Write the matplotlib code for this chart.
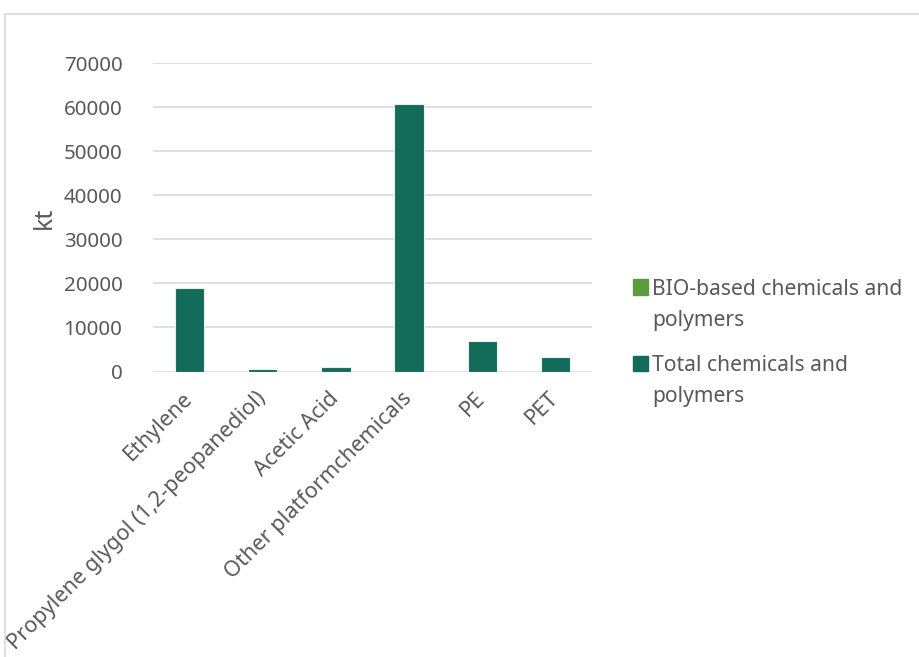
import matplotlib
matplotlib.use("Agg")
import matplotlib.pyplot as plt
from matplotlib.patches import Rectangle
from matplotlib.lines import Line2D
import numpy as np

categories = ["Ethylene", "Propylene glygol (1,2-peopanediol)", "Acetic Acid",
              "Other platformchemicals", "PE", "PET"]
bio_based = [0, 0, 0, 0, 0, 0]
total = [19000, 600, 1000, 60800, 7000, 3200]
y_ticks = [0, 10000, 20000, 30000, 40000, 50000, 60000, 70000]
series_names = ["BIO-based chemicals and\npolymers", "Total chemicals and\npolymers"]

TEXT = "#595959"
GRID = "#d9d9d9"
BIO_COLOR = "#5e9a3e"
TOTAL_COLOR = "#136b5a"
FONT = ["Noto Sans", "DejaVu Sans"]

plt.rcParams["font.family"] = FONT

W, H = 920, 657
fig = plt.figure(figsize=(W / 100, H / 100), dpi=100)

# chart area border (top and left edges visible)
fig.add_artist(Line2D([5 / W, 5 / W], [0, 1 - 14 / H], color=GRID, lw=1.2,
                      transform=fig.transFigure))
fig.add_artist(Line2D([5 / W, 1], [1 - 14 / H, 1 - 14 / H], color=GRID, lw=1.2,
                      transform=fig.transFigure))

left, right = 153 / W, 592 / W
bottom, top = 1 - 371.5 / H, 1 - 63.3 / H
ax = fig.add_axes([left, bottom, right - left, top - bottom])

x = np.arange(len(categories))
ax.bar(x, bio_based, width=0.4, color=BIO_COLOR, edgecolor="#e6efe9", linewidth=0.8, zorder=3)
ax.bar(x, total, width=0.4, color=TOTAL_COLOR, edgecolor="#e6efe9", linewidth=0.8, zorder=3)

ax.set_xlim(-0.5, len(categories) - 0.5)
ax.set_ylim(0, 70000)
ax.set_yticks(y_ticks)
ax.set_yticklabels([str(v) for v in y_ticks])
ax.set_xticks(x)
ax.set_xticklabels(categories, rotation=45, ha="right", va="center",
                   rotation_mode="anchor", fontsize=15.6)
ax.tick_params(axis="both", length=0, colors=TEXT)
ax.tick_params(axis="y", pad=22, labelsize=14.8)
ax.tick_params(axis="x", pad=17)
for s in ax.spines.values():
    s.set_visible(False)
ax.grid(axis="y", color=GRID, lw=1.2, zorder=0)
ax.set_axisbelow(True)
ax.set_ylabel("kt", fontsize=18, color=TEXT, labelpad=5)

# legend drawn beside the plot area; each label wraps onto a second line
LINE_GAP = 31.5
leg_items = [(series_names[0], BIO_COLOR, 294.5), (series_names[1], TOTAL_COLOR, 370.5)]
for label, color, base in leg_items:
    fig.add_artist(Rectangle((633 / W, 1 - base / H), 15 / W, 15 / H,
                             color=color, transform=fig.transFigure))
    fig.text(652 / W, 1 - (base + LINE_GAP) / H, label, fontsize=15.2, color=TEXT,
             ha="left", va="baseline", linespacing=1.62)

fig.savefig("out.png", dpi=100)
